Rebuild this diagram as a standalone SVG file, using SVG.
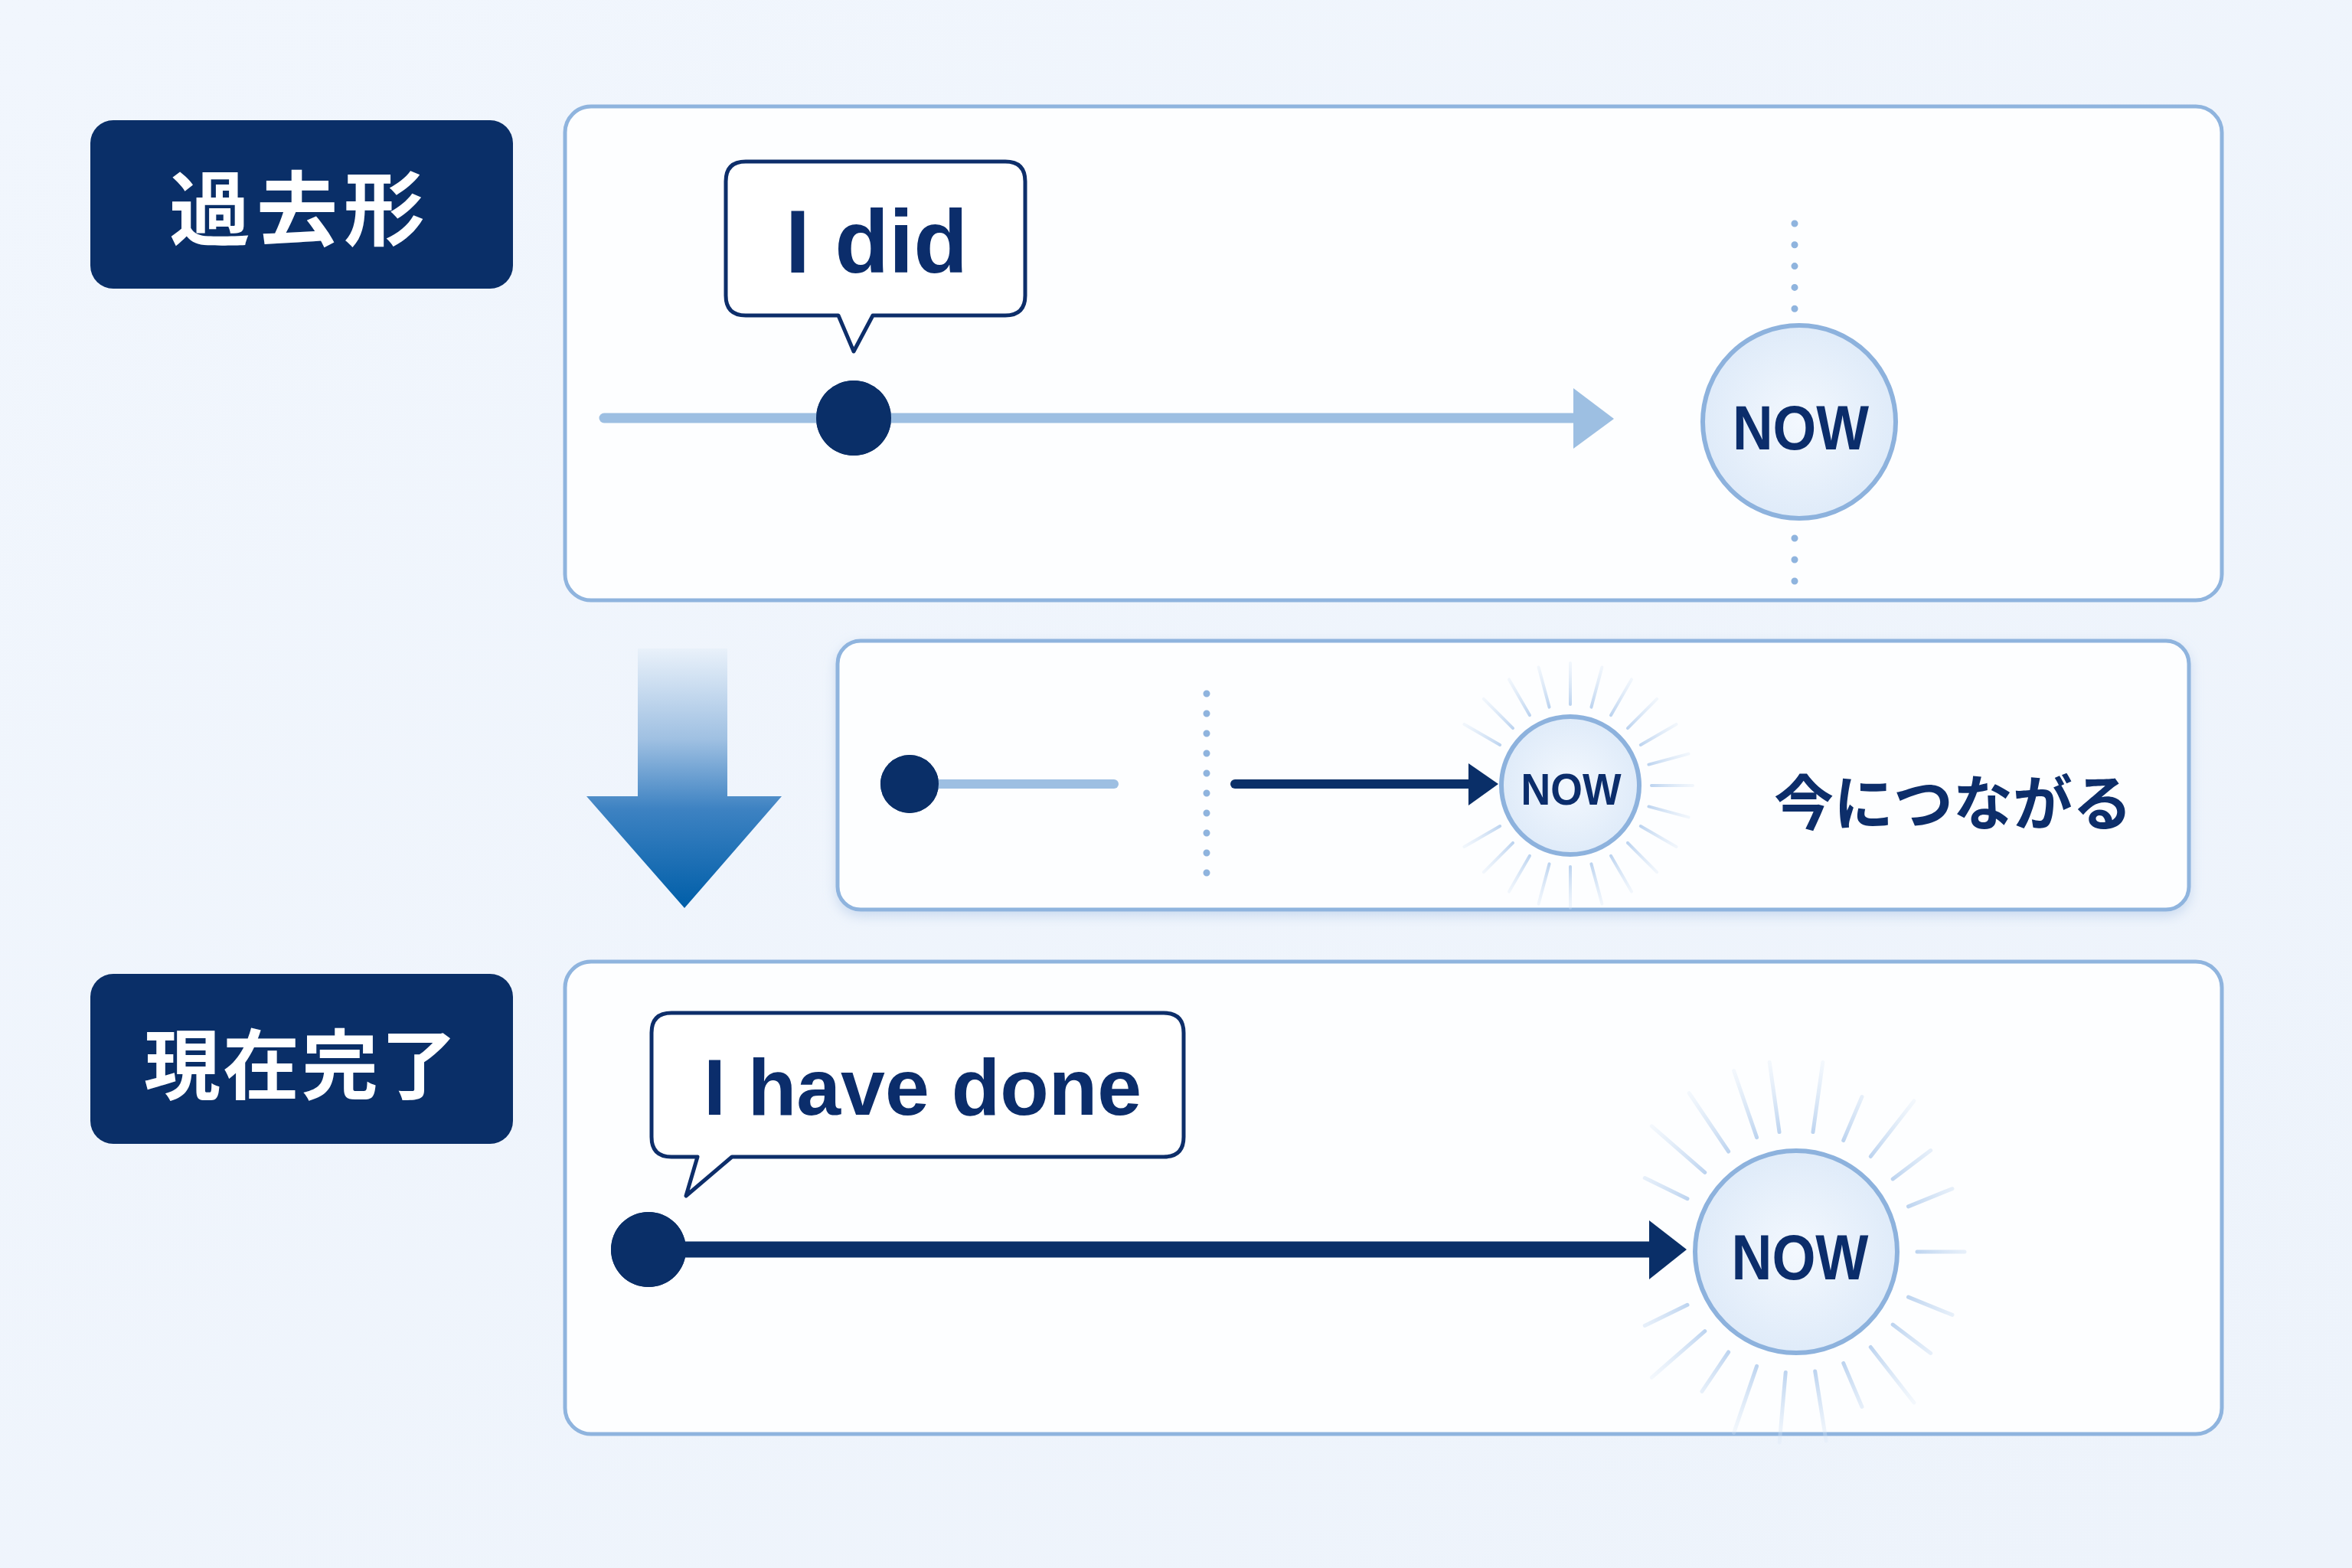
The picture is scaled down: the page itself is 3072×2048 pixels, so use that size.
<svg xmlns="http://www.w3.org/2000/svg" width="3072" height="2048" viewBox="0 0 3072 2048">
  <defs>
    <linearGradient id="bg" x1="0" y1="0" x2="1" y2="1">
      <stop offset="0" stop-color="#f1f6fd"/>
      <stop offset="1" stop-color="#edf3fb"/>
    </linearGradient>
    <linearGradient id="downGrad" x1="0" y1="0" x2="0" y2="1">
      <stop offset="0" stop-color="#e9f1fa"/>
      <stop offset="0.35" stop-color="#9fc0e2"/>
      <stop offset="0.62" stop-color="#3d82c2"/>
      <stop offset="1" stop-color="#005ea8"/>
    </linearGradient>
    <radialGradient id="nowFill" cx="0.5" cy="0.5" r="0.5">
      <stop offset="0" stop-color="#f3f8fe"/>
      <stop offset="1" stop-color="#dfebf9"/>
    </radialGradient>
    <linearGradient id="rayGradS" gradientUnits="userSpaceOnUse" x1="0" y1="-106" x2="0" y2="-160">
      <stop offset="0" stop-color="#b7d0ee" stop-opacity="0.9"/>
      <stop offset="1" stop-color="#d6e5f6" stop-opacity="0.3"/>
    </linearGradient>
    <linearGradient id="rayGradB" gradientUnits="userSpaceOnUse" x1="0" y1="-158" x2="0" y2="-250">
      <stop offset="0" stop-color="#b7d0ee" stop-opacity="0.9"/>
      <stop offset="1" stop-color="#d6e5f6" stop-opacity="0.25"/>
    </linearGradient>
    <filter id="shadow" x="-5%" y="-10%" width="110%" height="125%">
      <feDropShadow dx="0" dy="6" stdDeviation="8" flood-color="#9dbbe0" flood-opacity="0.45"/>
    </filter>
    <line id="raySmall" x1="0" y1="-106" x2="0" y2="-160" stroke="url(#rayGradS)" stroke-width="4" stroke-linecap="round"/>
    <line id="rayBigL" x1="0" y1="-158" x2="0" y2="-250" stroke="url(#rayGradB)" stroke-width="5" stroke-linecap="round"/>
    <line id="rayBigS" x1="0" y1="-158" x2="0" y2="-220" stroke="url(#rayGradB)" stroke-width="5" stroke-linecap="round"/>
  </defs>
  <style>
    .panel { fill: #fdfeff; stroke: #8fb4de; stroke-width: 5; }
    .label { fill: #0a2f68; }
    .labelText { font-family: "Noto Sans CJK JP", "Noto Sans CJK SC", sans-serif; font-weight: 700; fill: #ffffff; text-anchor: middle; }
    .bubble { fill: #ffffff; stroke: #0d2e6a; stroke-width: 5; stroke-linejoin: round; }
    .en { font-family: "Liberation Sans", Arial, sans-serif; font-weight: 700; fill: #0b2d6b; text-anchor: middle; }
    .now { fill: url(#nowFill); stroke: #8db2dd; stroke-width: 6; }
    .dotted { stroke: #8fb4de; stroke-width: 9; stroke-linecap: round; fill: none; }
    .dark { fill: #0a2f68; }
    .darkLine { stroke: #0a2f68; stroke-linecap: round; fill: none; }
    .lightLine { stroke: #9dbfe2; stroke-linecap: round; fill: none; }
    .jp { font-family: "Noto Sans CJK JP", "Noto Sans CJK SC", sans-serif; font-weight: 700; fill: #0d2e6a; text-anchor: middle; }
  </style>

  <rect x="0" y="0" width="3072" height="2048" fill="url(#bg)"/>

  <!-- Label: 過去形 -->
  <g id="label-past">
    <rect class="label" x="118" y="157" width="552" height="220" rx="30"/>
    <text class="labelText" x="392" y="312" font-size="106" letter-spacing="8">過去形</text>
  </g>

  <!-- Panel 1: past tense -->
  <g id="panel-past">
    <rect class="panel" x="738" y="139" width="2164" height="645" rx="34"/>
  </g>

  <g id="bubble-idid">
    <path class="bubble" d="M974,211 H1313 Q1339,211 1339,237 V386 Q1339,412 1313,412 H1140 L1115,459 L1095,412 H974 Q948,412 948,386 V237 Q948,211 974,211 Z"/>
    <text class="en" x="1145" y="356" font-size="116">I did</text>
  </g>

  <g id="now-past">
    <line class="dotted" x1="2344" y1="292" x2="2344" y2="404" stroke-dasharray="0 27.8"/>
    <line class="dotted" x1="2344" y1="703" x2="2344" y2="760" stroke-dasharray="0 28"/>
    <circle class="now" cx="2350" cy="551" r="126"/>
    <text class="en" x="2352" y="587" font-size="82" textLength="178" lengthAdjust="spacingAndGlyphs">NOW</text>
  </g>

  <g id="dot-past">
    <circle class="dark" cx="1115" cy="546" r="49"/>
  </g>

  <!-- Middle panel -->
  <g id="panel-connect">
    <rect class="panel" x="1094" y="837" width="1765" height="351" rx="30" filter="url(#shadow)"/>
    <line class="dotted" x1="1576" y1="906" x2="1576" y2="1141" stroke-dasharray="0 26"/>
    <text class="jp" x="2551" y="1078" font-size="78">今につながる</text>
  </g>

  <g id="now-connect">
    <g transform="translate(2051,1026)">
      <use href="#raySmall" transform="rotate(0)"/>
      <use href="#raySmall" transform="rotate(15)"/>
      <use href="#raySmall" transform="rotate(30)"/>
      <use href="#raySmall" transform="rotate(45)"/>
      <use href="#raySmall" transform="rotate(60)"/>
      <use href="#raySmall" transform="rotate(75)"/>
      <use href="#raySmall" transform="rotate(90)"/>
      <use href="#raySmall" transform="rotate(105)"/>
      <use href="#raySmall" transform="rotate(120)"/>
      <use href="#raySmall" transform="rotate(135)"/>
      <use href="#raySmall" transform="rotate(150)"/>
      <use href="#raySmall" transform="rotate(165)"/>
      <use href="#raySmall" transform="rotate(180)"/>
      <use href="#raySmall" transform="rotate(195)"/>
      <use href="#raySmall" transform="rotate(210)"/>
      <use href="#raySmall" transform="rotate(225)"/>
      <use href="#raySmall" transform="rotate(240)"/>
      <use href="#raySmall" transform="rotate(300)"/>
      <use href="#raySmall" transform="rotate(315)"/>
      <use href="#raySmall" transform="rotate(330)"/>
      <use href="#raySmall" transform="rotate(345)"/>
    </g>
    <circle class="now" cx="2051" cy="1026" r="90" stroke-width="5"/>
    <text class="en" x="2052" y="1051" font-size="58" textLength="131" lengthAdjust="spacingAndGlyphs">NOW</text>
  </g>

  <g id="dot-connect">
    <circle class="dark" cx="1188" cy="1024" r="38"/>
  </g>

  <!-- Big down arrow -->
  <g id="down-arrow">
    <path d="M833,847 H950 V1040 H1021 L894,1186 L766,1040 H833 Z" fill="url(#downGrad)"/>
  </g>

  <!-- Label: 現在完了 -->
  <g id="label-perfect">
    <rect class="label" x="118" y="1272" width="552" height="222" rx="30"/>
    <text class="labelText" x="394" y="1428" font-size="100" letter-spacing="3">現在完了</text>
  </g>

  <!-- Panel 3: present perfect -->
  <g id="panel-perfect">
    <rect class="panel" x="738" y="1256" width="2164" height="617" rx="34"/>
  </g>

  <g id="bubble-ihavedone">
    <path class="bubble" d="M877,1323 H1520 Q1546,1323 1546,1349 V1485 Q1546,1511 1520,1511 H956 L896,1562 L911,1511 H877 Q851,1511 851,1485 V1349 Q851,1323 877,1323 Z"/>
    <text class="en" x="1205" y="1456" font-size="104">I have done</text>
  </g>

  <g id="now-perfect">
    <g transform="translate(2346,1635)">
      <use href="#rayBigL" transform="rotate(-8)"/>
      <use href="#rayBigL" transform="rotate(8)"/>
      <use href="#rayBigS" transform="rotate(23)"/>
      <use href="#rayBigL" transform="rotate(38)"/>
      <use href="#rayBigS" transform="rotate(53)"/>
      <use href="#rayBigS" transform="rotate(68)"/>
      <use href="#rayBigS" transform="rotate(90)"/>
      <use href="#rayBigS" transform="rotate(112)"/>
      <use href="#rayBigS" transform="rotate(127)"/>
      <use href="#rayBigL" transform="rotate(142)"/>
      <use href="#rayBigS" transform="rotate(157)"/>
      <use href="#rayBigL" transform="rotate(171)"/>
      <use href="#rayBigL" transform="rotate(185)"/>
      <use href="#rayBigL" transform="rotate(199)"/>
      <use href="#rayBigS" transform="rotate(214)"/>
      <use href="#rayBigL" transform="rotate(229)"/>
      <use href="#rayBigS" transform="rotate(244)"/>
      <use href="#rayBigS" transform="rotate(296)"/>
      <use href="#rayBigL" transform="rotate(311)"/>
      <use href="#rayBigL" transform="rotate(326)"/>
      <use href="#rayBigL" transform="rotate(341)"/>
    </g>
    <circle class="now" cx="2346" cy="1635" r="132"/>
    <text class="en" x="2351" y="1671" font-size="84" textLength="179" lengthAdjust="spacingAndGlyphs">NOW</text>
  </g>

  <g id="dot-perfect">
    <circle class="dark" cx="847" cy="1632" r="49"/>
  </g>

  <!-- Connectors -->
  <g id="connectors">
    <line class="lightLine" x1="789" y1="546" x2="2060" y2="546" stroke-width="13"/>
    <path d="M2055,507 L2108,547 L2055,586 Z" fill="#9dbfe2"/>
    <circle class="dark" cx="1115" cy="546" r="49"/>

    <line class="lightLine" x1="1220" y1="1024" x2="1455" y2="1024" stroke-width="12"/>
    <circle class="dark" cx="1188" cy="1024" r="38"/>
    <line class="darkLine" x1="1613" y1="1024" x2="1922" y2="1024" stroke-width="12"/>
    <path d="M1918,997 L1957,1024 L1918,1052 Z" fill="#0a2f68"/>

    <line class="darkLine" x1="860" y1="1632" x2="2158" y2="1632" stroke-width="21" stroke-linecap="butt"/>
    <path d="M2154,1594 L2203,1632 L2154,1671 Z" fill="#0a2f68"/>
    <circle class="dark" cx="847" cy="1632" r="49"/>
  </g>
</svg>
